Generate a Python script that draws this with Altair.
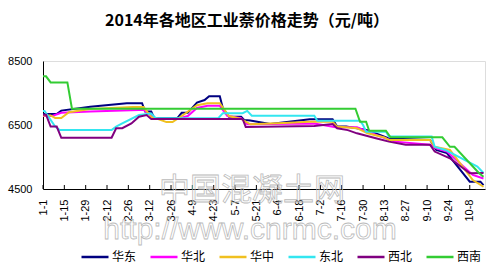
import datetime as dt
import altair as alt
import pandas as pd

title_text = "2014年各地区工业萘价格走势（元/吨）"
regions = ["华东", "华北", "华中", "东北", "西北", "西南"]
colors = ["#000080", "#FF00FF", "#F0C020", "#33E6F0", "#800080", "#33CC33"]
tick_labels = ["1-1", "1-15", "1-29", "2-12", "2-26", "3-12", "3-26", "4-9", "4-23",
               "5-7", "5-21", "6-4", "6-18", "7-2", "7-16", "7-30", "8-13", "8-27",
               "9-10", "9-24", "10-8"]
y_ticks = [4500, 6500, 8500]

huadong_dates = ["1-1", "1-10", "1-13", "2-1", "2-25", "3-7", "3-9", "3-13", "3-15", "3-30",
                 "4-2", "4-6", "4-12", "4-17", "4-20", "4-27", "4-29", "5-3", "5-11", "5-13",
                 "5-17", "5-30", "6-25", "7-10", "7-13", "7-19", "8-2", "8-10", "8-16", "9-12",
                 "9-16", "9-23", "10-8", "10-15", "10-17"]
huadong_values = [6840, 6840, 6950, 7070, 7180, 7180, 6920, 6920, 6710, 6710,
                  6880, 6880, 7200, 7280, 7400, 7400, 7020, 6760, 6760, 6660,
                  6640, 6530, 6680, 6680, 6450, 6450, 6340, 6190, 6080, 6030,
                  5720, 5620, 4730, 4730, 4620]

huabei_dates = ["1-1", "1-7", "1-13", "2-1", "3-5", "3-8", "3-13", "3-16", "3-30", "4-6",
                "4-12", "4-19", "4-27", "5-2", "5-11", "5-15", "6-28", "7-12", "7-26", "8-2",
                "8-11", "8-20", "9-12", "9-16", "9-23", "10-10", "10-17"]
huabei_values = [6780, 6780, 6880, 6920, 6970, 6970, 6800, 6690, 6690, 6780,
                 7030, 7100, 7100, 6780, 6710, 6520, 6550, 6430, 6430, 6290,
                 6130, 5980, 5880, 5770, 5670, 4940, 4830]

huazhong_dates = ["1-1", "1-6", "1-9", "1-13", "1-18", "2-1", "3-1", "3-8", "3-13", "3-18",
                  "3-23", "3-27", "4-2", "4-12", "4-19", "4-27", "5-3", "5-11", "5-17", "6-8",
                  "6-25", "7-10", "7-13", "7-26", "8-2", "8-13", "8-16", "9-12", "9-15", "9-25",
                  "10-10", "10-17"]
huazhong_values = [6800, 6800, 6720, 6720, 6900, 7000, 7060, 7060, 6750, 6680,
                   6590, 6590, 6780, 7120, 7180, 7180, 6780, 6690, 6520, 6560,
                   6600, 6600, 6450, 6400, 6240, 6110, 6030, 6030, 5820, 5720,
                   4780, 4570]

dongbei_dates = ["1-1", "1-2", "1-9", "1-12", "2-15", "2-18", "2-22", "3-5", "3-13", "3-16",
                 "4-26", "4-29", "5-12", "5-15", "5-18", "6-28", "6-30", "7-28", "7-30", "8-1",
                 "8-14", "8-16", "9-13", "9-15", "9-22", "10-13", "10-17"]
dongbei_values = [6940, 6940, 6450, 6340, 6340, 6450, 6550, 6810, 6860, 6710,
                  6710, 6870, 6870, 6940, 6790, 6790, 6630, 6630, 6500, 6290,
                  6290, 6140, 6140, 5820, 5720, 5200, 5000]

xibei_dates = ["1-1", "1-3", "1-6", "1-10", "1-13", "2-15", "2-18", "2-22", "2-28", "3-5",
               "3-10", "3-13", "5-12", "5-14", "6-28", "7-10", "7-13", "7-20", "7-26", "8-8",
               "8-16", "8-27", "9-12", "9-15", "9-25", "10-8", "10-17"]
xibei_values = [6820, 6820, 6450, 6450, 6100, 6100, 6400, 6400, 6550, 6760,
                6810, 6690, 6690, 6440, 6470, 6530, 6400, 6340, 6240, 6080,
                5980, 5880, 5880, 5670, 5460, 4990, 5000]

xinan_dates = ["1-1", "1-3", "1-6", "1-17", "1-20", "7-25", "7-28", "8-1", "8-3", "8-14",
               "8-17", "9-20", "9-25", "9-28", "10-14", "10-17"]
xinan_values = [8020, 8020, 7830, 7830, 7010, 7010, 6600, 6600, 6320, 6320,
                6115, 6115, 5820, 5820, 5000, 4880]

watermark_cn = "中国混凝土网"
watermark_url = "http://www.cnrmc.com"


def day_of_year(md):
    m, d = (int(p) for p in md.split("-"))
    return (dt.date(2014, m, d) - dt.date(2014, 1, 1)).days


series = [
    ("华东", huadong_dates, huadong_values),
    ("华北", huabei_dates, huabei_values),
    ("华中", huazhong_dates, huazhong_values),
    ("东北", dongbei_dates, dongbei_values),
    ("西北", xibei_dates, xibei_values),
    ("西南", xinan_dates, xinan_values),
]
rows = []
for order, (name, ds, vs) in enumerate(series):
    for i, (d, v) in enumerate(zip(ds, vs)):
        rows.append({"region": name, "day": day_of_year(d), "price": v, "o": order, "i": i})
df = pd.DataFrame(rows)

tick_days = [day_of_year(t) for t in tick_labels]
ticks_df = pd.DataFrame({"day": tick_days})

label_js = "[" + ",".join("'" + t + "'" for t in tick_labels) + "]"
label_expr = label_js + "[round(datum.value / 14)]"

x_scale = alt.Scale(domain=[0, 290], nice=False, zero=False)
y_scale = alt.Scale(domain=[4500, 8500], nice=False, zero=False)

x_axis = alt.Axis(values=tick_days, labelExpr=label_expr, labelAngle=-90,
                  labelAlign="right", labelBaseline="middle",
                  labelFont="Liberation Sans", labelFontSize=11, labelColor="#000",
                  labelPadding=10, ticks=False, grid=False, title=None,
                  domainColor="#000", labelOverlap=False, labelSeparation=0,
                  labelBound=False, labelFlush=False)

lines = alt.Chart(df).mark_line(strokeWidth=2).encode(
    x=alt.X("day:Q", scale=x_scale, axis=x_axis),
    y=alt.Y("price:Q", scale=y_scale,
            axis=alt.Axis(values=y_ticks, format="d", labelFont="Liberation Sans",
                          labelFontSize=11, labelColor="#000", labelPadding=11,
                          ticks=False, grid=False, title=None, domainColor="#000")),
    color=alt.Color("region:N", scale=alt.Scale(domain=regions, range=colors),
                    legend=alt.Legend(title=None, orient="none", direction="horizontal",
                                      legendX=37, legendY=181, padding=0,
                                      symbolType="stroke",
                                      symbolSize=729, symbolStrokeWidth=2.5,
                                      labelFont="Noto Sans CJK SC", labelFontSize=12,
                                      labelColor="#000", labelOffset=2, columnPadding=8)),
    detail="region:N",
    order="i:Q",
)

tick_marks = alt.Chart(ticks_df).mark_rule(color="#000", strokeWidth=1).encode(
    x=alt.X("day:Q", scale=x_scale, axis=x_axis),
    y=alt.value(128),
    y2=alt.value(124),
)

wm1 = alt.Chart(pd.DataFrame({"t": [watermark_cn]})).mark_text(
    font="Noto Sans CJK SC", fontSize=31, fillOpacity=0, stroke="#bbbbbb",
    strokeWidth=0.8, align="center", baseline="middle"
).encode(text="t:N", x=alt.value(209), y=alt.value(130))
wm2 = alt.Chart(pd.DataFrame({"t": [watermark_url]})).mark_text(
    font="Liberation Sans", fontSize=30, fillOpacity=0, stroke="#bbbbbb",
    strokeWidth=0.8, align="center", baseline="middle"
).encode(text="t:N", x=alt.value(207), y=alt.value(169))

chart = alt.layer(lines, tick_marks, wm1, wm2).properties(
    width=442, height=128,
    title=alt.TitleParams(title_text, font="Noto Sans CJK SC", fontSize=16,
                          fontWeight="bold", color="#000", anchor="middle",
                          dx=-17, offset=26),
    autosize=alt.AutoSizeParams(type="none"),
    padding={"left": 43, "top": 61, "right": 17, "bottom": 75},
).configure_view(stroke="#000", strokeWidth=1).configure_axisX(
    labelOverlap=False
).configure(background="white")

chart.save("out.html", embed_options={"renderer": "svg", "actions": False})
